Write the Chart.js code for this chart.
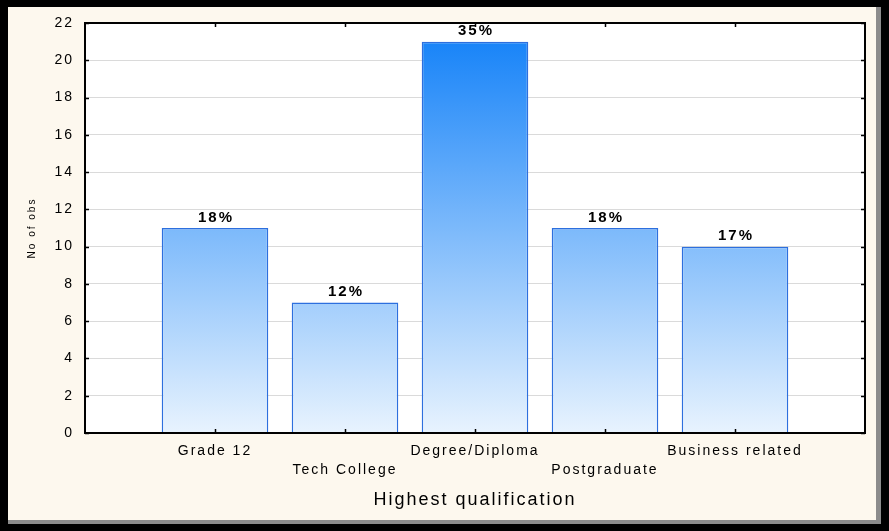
<!DOCTYPE html>
<html>
<head>
<meta charset="utf-8">
<script src="https://cdn.jsdelivr.net/npm/chart.js@4/dist/chart.umd.min.js"></script>
<style>
  html, body { margin: 0; padding: 0; background: #000; }
  #frame { position: relative; width: 889px; height: 531px; background: #000; overflow: hidden; }
  #panel { position: absolute; left: 8px; top: 7px; width: 868px; height: 513px;
           background: #fdf8ee; border-right: 5px solid #8c8c8c; border-bottom: 4px solid #8c8c8c; }
  #wrap { position: absolute; left: 0; top: 0; width: 889px; height: 531px; }
</style>
</head>
<body>
<div id="frame">
  <div id="panel"></div>
  <div id="wrap"><canvas id="c" width="889" height="531"></canvas></div>
</div>
<script>
// Respondents by highest qualification
const categories = ['Grade 12', 'Tech College', 'Degree/Diploma', 'Postgraduate', 'Business related'];
const counts = [11, 7, 21, 11, 10];
const yMin = 0;
const yMax = 22;
const yStep = 2;

const total = counts.reduce((s, v) => s + v, 0);
const FONT = '"Liberation Sans", Arial, sans-serif';

// Empty slots at both ends so the bars sit one step in from the frame
const labels = [''].concat(categories, ['']);
const values = [null].concat(counts, [null]);

let gradCache = null;
function barFill(ctx) {
  const area = ctx.chart.chartArea;
  if (!area) return '#7bb9fb';
  const key = area.top + ':' + area.bottom;
  if (!gradCache || gradCache.key !== key) {
    const g = ctx.chart.ctx.createLinearGradient(0, area.top, 0, area.bottom);
    g.addColorStop(0, '#0f7ff8');
    g.addColorStop(1, '#e8f3fe');
    gradCache = { key, g };
  }
  return gradCache.g;
}

// White plot background and spaced-out lettering used throughout the chart
const plotBackground = {
  id: 'plotBackground',
  beforeDraw(chart) {
    const { ctx, chartArea: a } = chart;
    ctx.letterSpacing = '2px';
    ctx.save();
    ctx.fillStyle = '#ffffff';
    ctx.fillRect(a.left, a.top, a.right - a.left, a.bottom - a.top);
    ctx.restore();
  }
};

// Percentage labels above each bar
const pctLabels = {
  id: 'pctLabels',
  afterDatasetsDraw(chart) {
    const ctx = chart.ctx;
    const meta = chart.getDatasetMeta(0);
    const data = chart.data.datasets[0].data;
    ctx.save();
    ctx.font = 'bold 15px ' + FONT;
    ctx.fillStyle = '#000';
    ctx.textAlign = 'center';
    ctx.textBaseline = 'bottom';
    meta.data.forEach((bar, i) => {
      const v = data[i];
      if (v == null) return;
      ctx.fillText(Math.round(v / total * 100) + '%', bar.x + 1, bar.y - 3);
    });
    ctx.restore();
  }
};

// Plot frame with inward tick marks on all four sides
const plotFrame = {
  id: 'plotFrame',
  afterDraw(chart) {
    const { ctx, chartArea: a, scales } = chart;
    const x = scales.x, y = scales.y;
    ctx.save();
    ctx.strokeStyle = '#000';
    ctx.lineWidth = 1.5;
    ctx.beginPath();
    y.ticks.forEach(t => {
      const py = Math.round(y.getPixelForValue(t.value)) + 0.5;
      ctx.moveTo(a.left, py); ctx.lineTo(a.left + 4, py);
      ctx.moveTo(a.right, py); ctx.lineTo(a.right - 4, py);
    });
    for (let i = 1; i < labels.length - 1; i++) {
      const px = Math.round(x.getPixelForTick(i)) + 0.5;
      ctx.moveTo(px, a.bottom); ctx.lineTo(px, a.bottom - 4);
      ctx.moveTo(px, a.top); ctx.lineTo(px, a.top + 4);
    }
    ctx.stroke();
    ctx.lineWidth = 2;
    ctx.strokeRect(a.left, a.top, a.right - a.left, a.bottom - a.top);
    ctx.restore();
  }
};

new Chart(document.getElementById('c'), {
  type: 'bar',
  data: {
    labels: labels,
    datasets: [{
      data: values,
      backgroundColor: barFill,
      borderColor: '#2d6fde',
      borderWidth: 1.5,
      categoryPercentage: 1,
      barPercentage: 0.82
    }]
  },
  options: {
    responsive: false,
    animation: false,
    devicePixelRatio: 1,
    layout: { padding: { top: 23, right: 24, left: 0, bottom: 0 } },
    plugins: { legend: { display: false }, tooltip: { enabled: false } },
    scales: {
      x: {
        offset: false,
        grid: { display: false, drawTicks: false },
        border: { display: false },
        ticks: {
          autoSkip: false,
          maxRotation: 0,
          minRotation: 0,
          padding: 9,
          color: '#000',
          font: { family: FONT, size: 14, lineHeight: '19px' },
          callback(value, index) {
            const t = labels[index];
            if (!t) return '';
            return index % 2 === 0 ? ['', t] : [t];
          }
        },
        title: {
          display: true,
          text: 'Highest qualification',
          color: '#000',
          font: { family: FONT, size: 18 },
          padding: { top: 0, bottom: 20 }
        },
        afterFit(scale) { scale.height = 98; }
      },
      y: {
        min: yMin,
        max: yMax,
        ticks: {
          stepSize: yStep,
          padding: 11,
          color: '#000',
          font: { family: FONT, size: 14 }
        },
        grid: { color: '#dadada', lineWidth: 1, drawTicks: false },
        border: { display: false },
        title: {
          display: true,
          text: 'No of obs',
          color: '#000',
          font: { family: FONT, size: 10 },
          padding: { top: 26, bottom: 0 }
        },
        afterFit(scale) { scale.width = 85; }
      }
    }
  },
  plugins: [plotBackground, pctLabels, plotFrame]
});
</script>
</body>
</html>
